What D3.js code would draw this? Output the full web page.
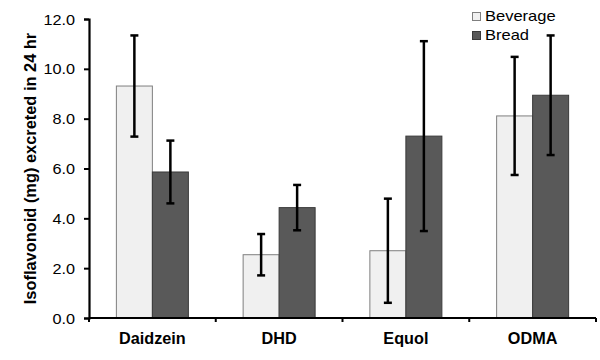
<!DOCTYPE html>
<html><head><meta charset="utf-8">
<script src="https://cdn.jsdelivr.net/npm/d3@7"></script>
<style>body{margin:0;background:#fff}svg{display:block}</style>
</head><body><svg id="c" width="600" height="360"></svg>
<script>
const categories = ["Daidzein","DHD","Equol","ODMA"];
const seriesNames = ["Beverage","Bread"];
const beverage = [9.31, 2.54, 2.70, 8.11];
const beverageErr = [2.03, 0.83, 2.09, 2.37];
const bread = [5.86, 4.43, 7.30, 8.94];
const breadErr = [1.26, 0.91, 3.81, 2.40];
const yTicks = [0,2,4,6,8,10,12];

const FONT = "Arial, 'Liberation Sans', sans-serif";
const svg = d3.select("#c");
const m = {l:89, r:4, t:19, b:42};
const W = 600, H = 360;
const x = d3.scaleBand().domain(categories).range([m.l, W - m.r]).paddingInner(0).paddingOuter(0);
const y = d3.scaleLinear().domain([0,12]).range([H - m.b, m.t]);
const gw = 72;
const xs = d3.scaleBand().domain(seriesNames).range([0, gw]);
const colors = {Beverage:"#f0f0f0", Bread:"#595959"};
const strokes = {Beverage:"#7f7f7f", Bread:"#3a3a3a"};

const data = [];
categories.forEach((c,i)=>{
  data.push({c, s:"Beverage", v:beverage[i], e:beverageErr[i]});
  data.push({c, s:"Bread", v:bread[i], e:breadErr[i]});
});
const bx = d => x(d.c) + (x.bandwidth()-gw)/2 + xs(d.s);

svg.selectAll("rect.bar").data(data).join("rect").attr("class","bar")
  .attr("x", bx).attr("width", xs.bandwidth())
  .attr("y", d=>y(d.v)).attr("height", d=>y(0)-y(d.v))
  .attr("fill", d=>colors[d.s]).attr("stroke", d=>strokes[d.s]).attr("stroke-width",1);

const eb = svg.append("g").attr("stroke","#000").attr("stroke-width",2.5);
data.forEach(d=>{
  const cx = bx(d) + xs.bandwidth()/2;
  eb.append("line").attr("x1",cx).attr("x2",cx).attr("y1",y(d.v+d.e)).attr("y2",y(d.v-d.e));
  eb.append("line").attr("x1",cx-4).attr("x2",cx+4).attr("y1",y(d.v+d.e)).attr("y2",y(d.v+d.e));
  eb.append("line").attr("x1",cx-4).attr("x2",cx+4).attr("y1",y(d.v-d.e)).attr("y2",y(d.v-d.e));
});

// y axis
const ya = svg.append("g").attr("transform",`translate(${m.l},0)`)
  .call(d3.axisLeft(y).tickValues(yTicks).tickFormat(d3.format(".1f")).tickSize(5).tickPadding(4));
ya.select(".domain").attr("stroke","#000").attr("stroke-width",2.2);
ya.selectAll(".tick line").attr("stroke","#000").attr("stroke-width",2);
ya.selectAll(".tick text")
  .attr("x",null).attr("dy",null).attr("y",null)
  .attr("transform","translate(-14,5) scale(1.16,1)")
  .attr("font-family",FONT).attr("font-size",14).attr("fill","#000");

// x axis
const xa = svg.append("g").attr("transform",`translate(0,${y(0)})`)
  .call(d3.axisBottom(x).tickSize(0).tickPadding(15));
xa.select(".domain").remove();
xa.append("line").attr("x1",m.l).attr("x2",W-m.r).attr("stroke","#000").attr("stroke-width",2.2);
const bounds = categories.map(c=>x(c)).concat([W-m.r]);
xa.selectAll("line.tk").data(bounds).join("line").attr("class","tk")
  .attr("x1",d=>d).attr("x2",d=>d).attr("y1",0).attr("y2",4).attr("stroke","#000").attr("stroke-width",2);
xa.selectAll(".tick text")
  .attr("y",null).attr("dy",null)
  .attr("transform",`translate(0,${344 - y(0)}) scale(1.04,1)`)
  .attr("font-family",FONT).attr("font-size",15.6)
  .attr("font-weight","bold").attr("fill","#000");

// y title
svg.append("text").attr("transform",`translate(36,${168.5}) rotate(-90)`)
  .attr("text-anchor","middle").attr("font-family",FONT)
  .attr("font-size",16.4).attr("font-weight","bold").attr("fill","#000")
  .text("Isoflavonoid (mg) excreted in 24 hr");

// legend
const lg = svg.append("g").attr("transform","translate(472,12)");
seriesNames.forEach((s,i)=>{
  const g = lg.append("g").attr("transform",`translate(0,${i*19})`);
  g.append("rect").attr("x",0.5).attr("y",0.5).attr("width",8).attr("height",8)
    .attr("fill",colors[s]).attr("stroke",strokes[s]).attr("stroke-width",1);
  g.append("text").attr("transform","translate(13,9) scale(1.18,1)").attr("font-family",FONT)
    .attr("font-size",14).attr("fill","#000").text(s);
});
</script></body></html>
